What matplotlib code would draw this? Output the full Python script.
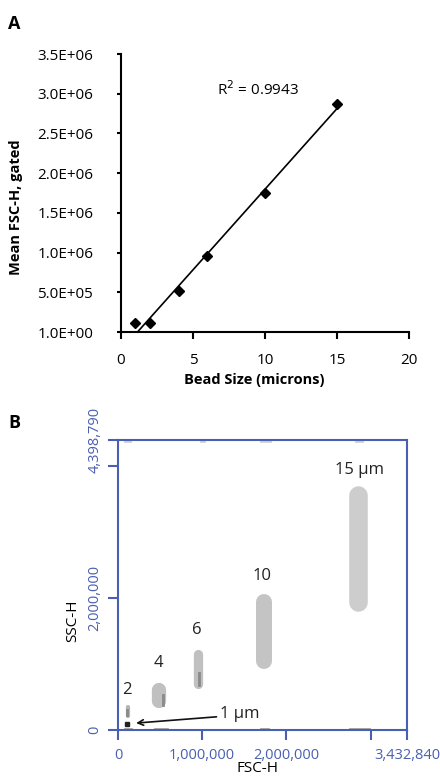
import numpy as np
import matplotlib.pyplot as plt

plt.rcParams['font.family'] = ['Open Sans', 'DejaVu Sans']

# ---- panel A data ----
bead_size = np.array([1, 2, 4, 6, 10, 15])
mean_fsc = np.array([0.11e6, 0.11e6, 0.52e6, 0.96e6, 1.75e6, 2.87e6])
a_yticks = [0, 5e5, 1e6, 1.5e6, 2e6, 2.5e6, 3e6, 3.5e6]
a_ylabels = ['1.0E+00', '5.0E+05', '1.0E+06', '1.5E+06', '2.0E+06',
             '2.5E+06', '3.0E+06', '3.5E+06']
a_xticks = [0, 5, 10, 15, 20]
r2_text = 'R$^{2}$ = 0.9943'

# ---- panel B data (bead clouds: centre, width, height) ----
cloud_label = ['2', '4', '6', '10', '15 µm']
cloud_x = [0.115e6, 0.49e6, 0.945e6, 1.74e6, 2.855e6]
cloud_y = [0.28e6, 0.52e6, 0.93e6, 1.50e6, 2.75e6]
cloud_w = [0.05e6, 0.17e6, 0.11e6, 0.19e6, 0.22e6]
cloud_h = [0.20e6, 0.39e6, 0.60e6, 1.14e6, 1.90e6]
label_x = [0.10e6, 0.48e6, 0.94e6, 1.71e6, 2.87e6]
label_y = [0.60e6, 1.02e6, 1.51e6, 2.33e6, 3.94e6]
# darker cores inside clouds
core_x = [0.11e6, 0.53e6, 0.957e6]
core_y0 = [0.23e6, 0.38e6, 0.68e6]
core_y1 = [0.31e6, 0.53e6, 0.86e6]
one_um_x, one_um_y = 0.11e6, 0.085e6
# events piled on the axis edges
edge_top_x0 = [0.08e6, 0.98e6, 1.70e6, 2.83e6]
edge_top_x1 = [0.14e6, 1.02e6, 1.80e6, 2.90e6]
edge_bot_x0 = [0.08e6, 0.44e6, 1.70e6, 2.76e6]
edge_bot_x1 = [0.16e6, 0.58e6, 1.78e6, 2.98e6]
x_max, y_max = 3432840, 4398790
b_xticks = [0, 1e6, 2e6, 3e6, x_max]
b_xlabels = ['0', '1,000,000', '2,000,000', '', '3,432,840']
b_yticks = [0, 2e6, 4e6, y_max]
b_ylabels = ['0', '2,000,000', '', '4,398,790']

W, H = 440, 777
fig = plt.figure(figsize=(W / 100, H / 100), dpi=100)

# ================= panel A =================
axA = fig.add_axes([121 / W, 1 - 332 / H, 288 / W, 278 / H])
slope, icpt = np.polyfit(bead_size, mean_fsc, 1)
xl = np.array([bead_size.min(), bead_size.max()])
axA.plot(xl, slope * xl + icpt, color='black', lw=1.2, zorder=2)
axA.plot(bead_size, mean_fsc, 'D', color='black', markersize=5.5, zorder=3,
         clip_on=False)
axA.set_xlim(0, 20)
axA.set_ylim(0, 3.5e6)
axA.set_xticks(a_xticks)
axA.set_yticks(a_yticks)
axA.set_yticklabels(a_ylabels, fontsize=11)
axA.set_xticklabels([str(v) for v in a_xticks], fontsize=11)
for s in ['top', 'right']:
    axA.spines[s].set_visible(False)
for s in ['left', 'bottom']:
    axA.spines[s].set_linewidth(1.5)
axA.tick_params(axis='y', direction='out', length=3, width=1.5, pad=17)
axA.tick_params(axis='x', direction='out', length=5, width=1.5, pad=10)
axA.text(9.5, 3.05e6, r2_text, fontsize=11, ha='center', va='center')
fig.text(8 / W, 1 - 24 / H, 'A', fontsize=13, fontweight='bold', va='center')
fig.text(16 / W, 1 - 207 / H, 'Mean FSC-H, gated', rotation=90,
         fontsize=10.5, fontweight='bold', ha='center', va='center')
fig.text(254 / W, 1 - 380 / H, 'Bead Size (microns)', fontsize=10.5,
         fontweight='bold', ha='center', va='center')

# ================= panel B =================
blue = '#4a5fb2'
axB = fig.add_axes([118 / W, 1 - 730 / H, 289 / W, 290 / H])
axB.set_xlim(0, x_max)
axB.set_ylim(0, y_max)
# clouds drawn as round-capped strokes, width taken from the x scale
px_per_x = axB.get_position().width * W / x_max
px_per_y = axB.get_position().height * H / y_max
cloud_col = ['#b4b4b4', '#c0c0c0', '#c0c0c0', '#c4c4c4', '#cdcdcd']
for cx, cy, cw, ch, c in zip(cloud_x, cloud_y, cloud_w, cloud_h, cloud_col):
    lw_pt = cw * px_per_x * 0.72
    cap = cw * px_per_x / 2 / px_per_y
    axB.plot([cx, cx], [cy - ch / 2 + cap, cy + ch / 2 - cap], color=c,
             lw=lw_pt, solid_capstyle='round', zorder=1)
for cx, y0, y1 in zip(core_x, core_y0, core_y1):
    axB.plot([cx, cx], [y0, y1], color='#8a8a8a', lw=2, zorder=2)
axB.plot([one_um_x], [one_um_y], 's', color='#222222', markersize=3, zorder=3)
for x0, x1 in zip(edge_top_x0, edge_top_x1):
    axB.plot([x0, x1], [y_max * 0.997, y_max * 0.997], color='#d0d0d0',
             lw=2, zorder=0)
for x0, x1 in zip(edge_bot_x0, edge_bot_x1):
    axB.plot([x0, x1], [y_max * 0.004, y_max * 0.004], color='#a0a0a0',
             lw=2, zorder=0)
for t, lx, ly in zip(cloud_label, label_x, label_y):
    axB.text(lx, ly, t, fontsize=12, ha='center', va='center', color='#222222')
axB.annotate('', xy=(0.215e6, 0.105e6), xytext=(1.17e6, 0.2e6),
             arrowprops=dict(arrowstyle='->', color='#111111', lw=1.2,
                             shrinkA=0, shrinkB=0))
axB.text(1.21e6, 0.25e6, '1 µm', fontsize=12, ha='left', va='center',
         color='#222222')
axB.set_xticks(b_xticks)
axB.set_xticklabels(b_xlabels)
axB.set_yticks(b_yticks)
axB.set_yticklabels(b_ylabels, rotation=90, va='center')
for s in axB.spines.values():
    s.set_color(blue)
    s.set_linewidth(1.5)
axB.tick_params(axis='both', direction='out', length=7, width=1.5,
                color=blue, labelcolor=blue, labelsize=10.5)
axB.tick_params(axis='x', pad=6)
axB.tick_params(axis='y', pad=4)
fig.text(8 / W, 1 - 423 / H, 'B', fontsize=13, fontweight='bold', va='center')
fig.text(73 / W, 1 - 621 / H, 'SSC-H', rotation=90, fontsize=11,
         ha='center', va='center')
fig.text(258 / W, 1 - 776 / H, 'FSC-H', fontsize=11, ha='center',
         va='bottom')

fig.savefig('out.png', dpi=100)
